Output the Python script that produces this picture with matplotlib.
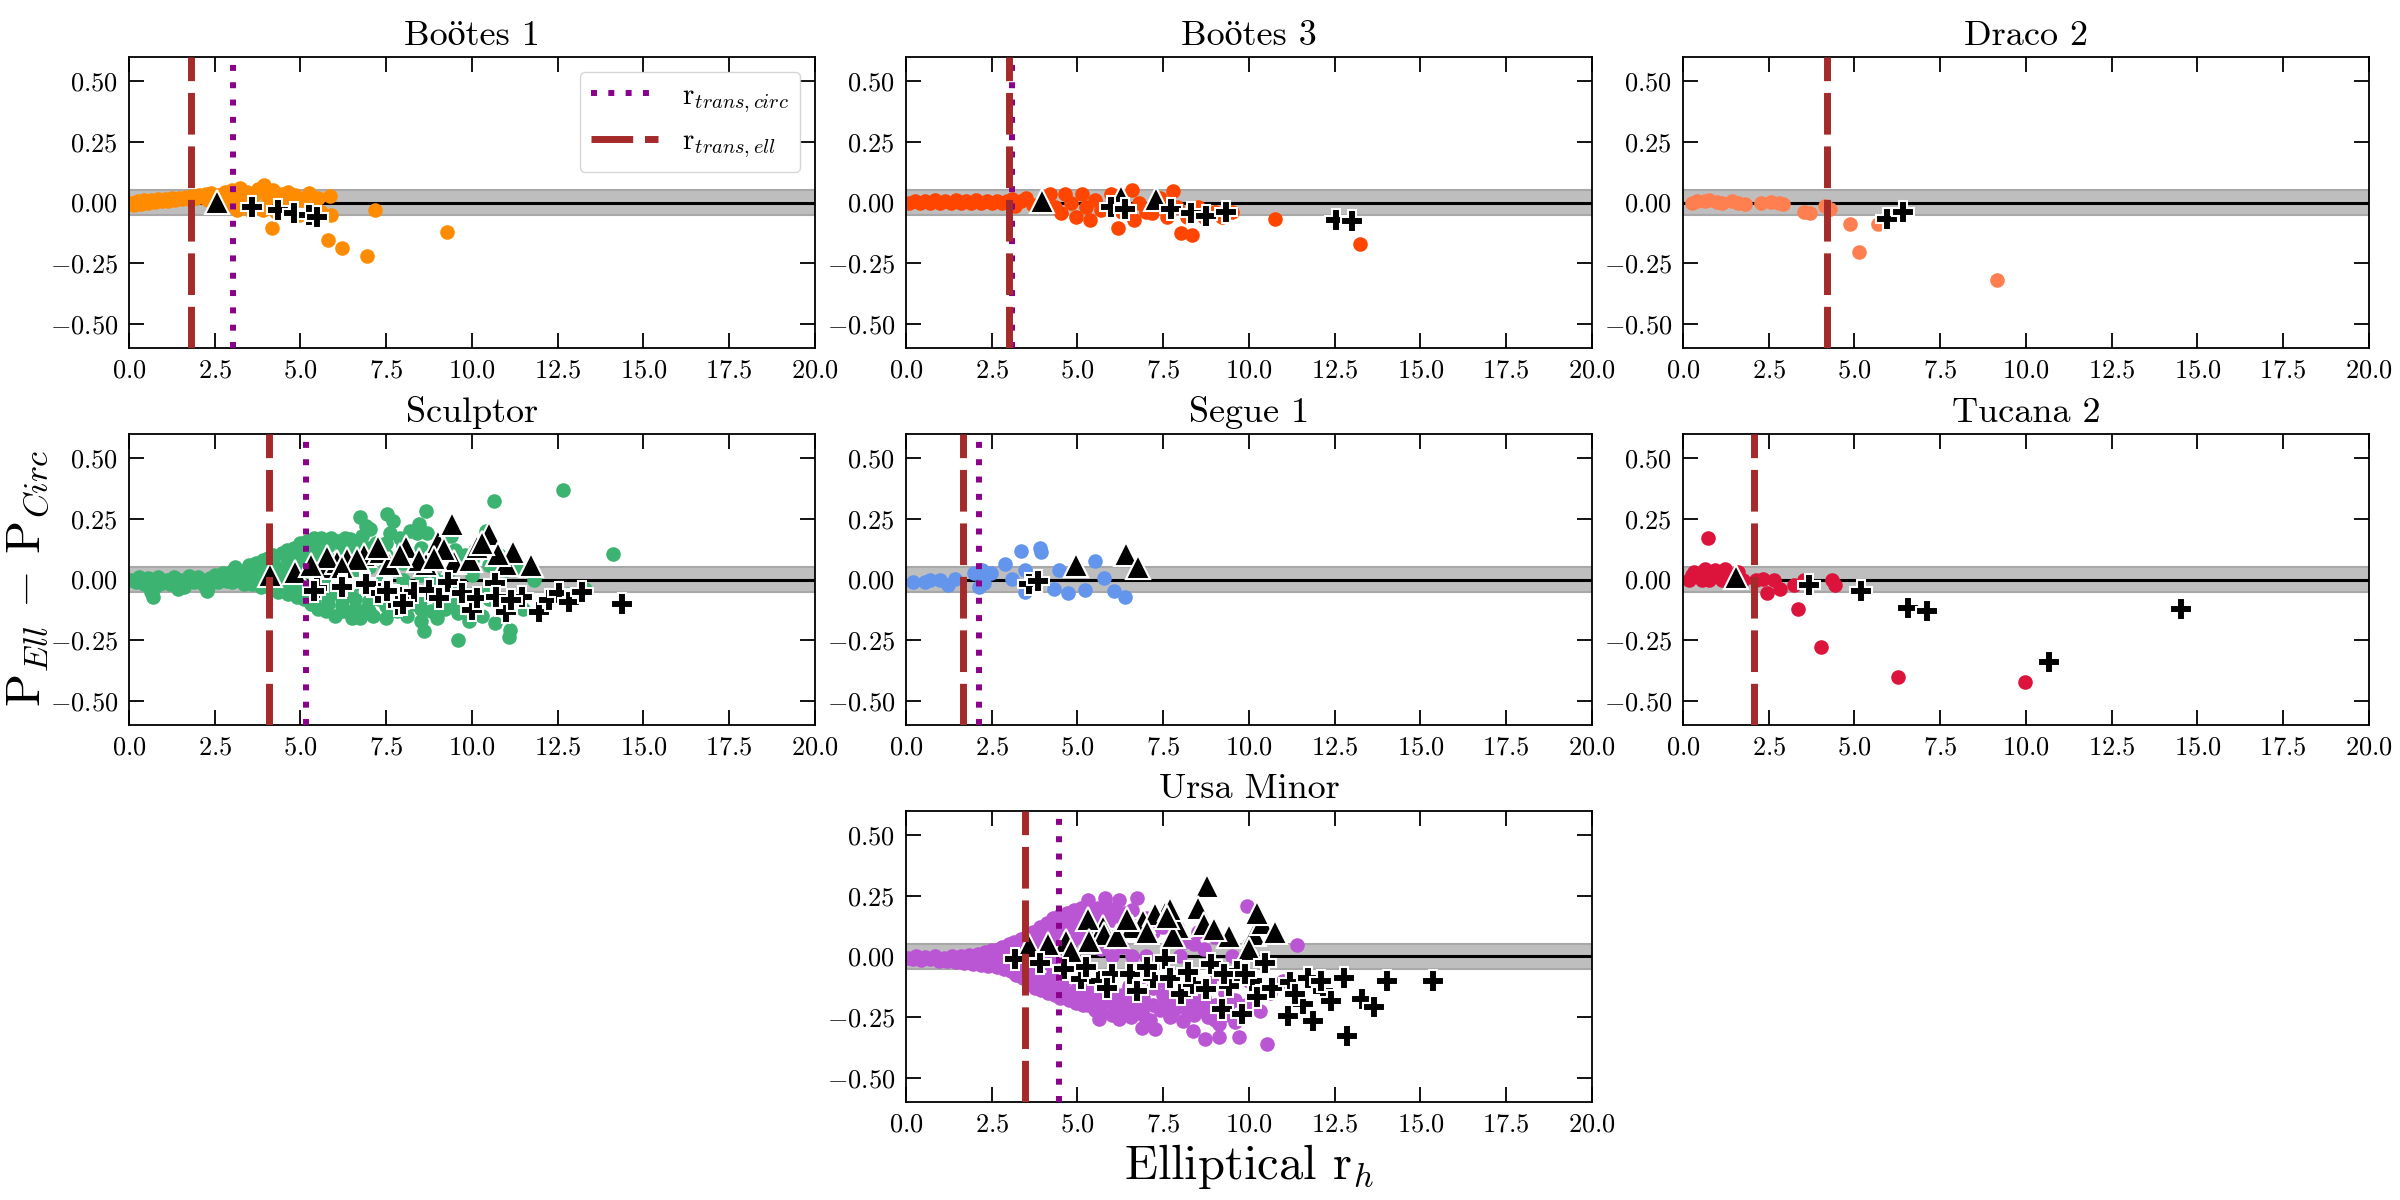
import matplotlib
matplotlib.use('Agg')
import matplotlib.pyplot as plt
from matplotlib.lines import Line2D

plt.rcParams.update({
    'font.family': ['cmr10', 'STIXGeneral'],
    'mathtext.fontset': 'cm',
    'axes.formatter.use_mathtext': True,
    'axes.unicode_minus': True,
})

# ---------------- data ----------------
names = ['Boötes 1', 'Boötes 3', 'Draco 2', 'Sculptor', 'Segue 1', 'Tucana 2', 'Ursa Minor']
colors = ['darkorange', 'orangered', 'coral', 'mediumseagreen', 'cornflowerblue', 'crimson', 'mediumorchid']
r_trans_ell = [1.82, 3.0, 4.2, 4.08, 1.67, 2.07, 3.48]
r_trans_circ = [3.04, 3.08, None, 5.17, 2.13, None, 4.46]

# Boötes 1
boo1_cx = [0.05, 0.15, 0.25, 0.35, 0.45, 0.55, 0.65, 0.75, 0.85, 0.95, 1.05, 1.15, 1.25, 1.35, 1.45, 1.55,
           1.65, 1.75, 1.85, 1.95, 2.05, 2.15, 2.25, 2.3, 2.4, 2.6, 2.8, 2.9, 3.0, 3.1, 3.15, 3.25, 3.35,
           3.45, 3.55, 3.65, 3.75, 3.93, 3.9, 4.05, 4.17, 4.2, 4.3, 4.45, 4.55, 4.65, 4.75, 4.85, 4.95,
           5.05, 5.26, 5.4, 5.5, 5.6, 5.81, 5.87, 5.9, 6.2, 6.94, 7.18, 9.28]
boo1_cy = [0.0, -0.01, 0.005, -0.005, 0.01, 0.0, 0.012, 0.004, 0.014, 0.006, 0.016, 0.008, 0.018, 0.01, 0.02, 0.014,
           0.024, 0.016, 0.028, 0.02, 0.03, 0.022, 0.035, 0.01, 0.04, 0.03, 0.045, -0.01, 0.05, 0.02, -0.03, 0.06, 0.0,
           0.045, -0.035, 0.03, 0.055, 0.074, -0.03, 0.02, -0.107, 0.05, -0.04, 0.035, 0.0, 0.045, -0.02, 0.03, -0.05,
           0.01, 0.04, -0.02, 0.02, -0.04, -0.154, 0.026, -0.05, -0.189, -0.22, -0.031, -0.123]
boo1_tx = [2.56]
boo1_ty = [0.003]
boo1_px = [3.58, 4.35, 4.80, 5.25, 5.47]
boo1_py = [-0.018, -0.029, -0.045, -0.052, -0.059]

# Boötes 3
boo3_cx = [0.1, 0.25, 0.4, 0.55, 0.7, 0.85, 1.0, 1.15, 1.3, 1.45, 1.6, 1.75, 1.9, 2.05, 2.2, 2.35, 2.5, 2.65,
           2.8, 2.95, 3.1, 3.19, 3.35, 3.5, 3.7, 4.21, 4.35, 4.53, 4.65, 4.8, 4.95, 5.14, 5.25, 5.36, 5.5, 5.7,
           5.99, 6.18, 6.3, 6.58, 6.66, 6.8, 7.0, 7.18, 7.4, 7.6, 7.78, 7.9, 8.03, 8.2, 8.34, 8.5, 8.7, 9.0,
           9.2, 9.5, 10.76, 13.24]
boo3_cy = [0.0, 0.008, -0.004, 0.006, 0.0, 0.009, -0.003, 0.007, 0.0, 0.01, -0.002, 0.006, 0.0, 0.009, -0.003,
           0.006, 0.0, 0.008, -0.004, 0.007, 0.015, -0.015, 0.005, 0.02, -0.01, 0.033, -0.02, -0.045, 0.037, 0.0,
           -0.059, 0.033, -0.02, -0.072, 0.01, -0.03, 0.037, -0.104, -0.04, 0.051, -0.072, 0.0, -0.04, -0.045,
           0.02, -0.06, 0.046, -0.02, -0.127, -0.06, -0.135, -0.02, -0.06, -0.04, -0.06, -0.04, -0.066, -0.172]
boo3_tx = [3.98, 6.26, 7.28]
boo3_ty = [0.007, 0.023, 0.016]
boo3_px = [5.99, 6.39, 7.73, 8.30, 8.74, 9.34, 12.54, 12.99]
boo3_py = [-0.02, -0.025, -0.025, -0.045, -0.056, -0.038, -0.072, -0.075]

# Draco 2
dra2_cx = [0.25, 0.4, 0.63, 0.75, 1.0, 1.15, 1.44, 1.6, 1.82, 2.26, 2.56, 2.8, 2.93, 3.53, 3.71, 4.15, 4.3,
           4.87, 5.12, 5.69, 9.16]
dra2_cy = [0.0, 0.005, 0.008, 0.01, 0.002, 0.0, 0.005, 0.0, -0.006, 0.0, 0.003, 0.0, -0.005, -0.038, -0.045,
           -0.015, -0.025, -0.09, -0.205, -0.089, -0.318]
dra2_tx = []
dra2_ty = []
dra2_px = [5.96, 6.41]
dra2_py = [-0.066, -0.041]

# Sculptor
scl_cx = [0.05, 0.2, 0.3, 0.45, 0.55, 0.7, 0.75, 0.85, 0.95, 1.1, 1.2, 1.3, 1.44, 1.5, 1.65, 1.75, 1.9, 2.0,
          2.15, 2.26, 2.35, 2.5, 2.6, 2.75, 2.85, 3.0, 3.0, 3.1, 3.2, 3.3, 3.35, 3.5, 3.55, 3.6, 3.7, 3.8, 3.85,
          3.9, 4.0, 4.05, 4.15, 4.2, 4.3, 4.35, 4.45, 4.5, 4.6, 4.65, 4.7, 4.8, 4.85, 4.9, 5.0, 5.0, 5.1, 5.2,
          5.25, 5.3, 5.4, 5.45, 5.5, 5.6, 5.7, 5.75, 5.9, 5.95, 6.0, 6.1, 6.2, 6.25, 6.3, 6.44, 6.5, 6.6, 6.73,
          6.73, 6.8, 6.9, 7.03, 7.1, 7.2, 7.3, 7.48, 7.52, 7.6, 7.7, 7.8, 7.9, 8.1, 8.2, 8.3, 8.45, 8.5, 8.6,
          8.67, 8.7, 8.8, 8.97, 9.1, 9.2, 9.4, 9.59, 9.6, 9.8, 9.9, 10.1, 10.3, 10.4, 10.64, 10.68, 10.8,
          11.08, 11.1, 11.3, 11.5, 11.8, 12.2, 12.65, 12.8, 13.3, 14.11, 5.5, 5.8, 6.0, 6.4, 6.6, 7.0, 7.4,
          7.5, 8.0, 8.4, 8.9, 9.3, 9.7, 10.0, 10.5, 6.9, 8.4,
          3.4, 3.4, 3.8, 3.8, 3.8, 4.2, 4.2, 4.2, 4.6, 4.6, 4.6, 5.0, 5.0, 5.0, 5.0, 5.4, 5.4, 5.4, 5.4, 5.4,
          5.8, 5.8, 5.8, 5.8, 5.8, 6.2, 6.2, 6.2, 6.2, 6.2, 6.6, 6.6, 6.6, 6.6, 6.6, 7.0, 7.0, 7.0, 7.0, 7.0,
          7.5, 7.5, 7.5, 7.5, 8.0, 8.0, 8.0, 8.0, 8.5, 8.5, 8.5, 8.5, 9.0, 9.0, 9.0, 9.0, 9.5, 9.5, 9.5,
          10.0, 10.0, 10.0, 10.5, 10.5, 11.0, 11.0, 0.65, 1.6, 2.3, 2.9]
scl_cy = [0.0, -0.01, 0.01, -0.02, 0.005, -0.07, -0.03, 0.01, -0.015, 0.0, -0.02, 0.012, -0.037, 0.0, -0.015,
          0.015, -0.01, 0.01, -0.02, -0.046, 0.005, 0.02, -0.01, 0.025, -0.005, 0.035, -0.01, 0.05, 0.0, 0.03,
          -0.02, 0.06, 0.01, -0.02, 0.07, 0.03, -0.03, 0.08, 0.0, 0.09, -0.04, 0.1, 0.05, -0.05, 0.11, 0.0,
          0.12, -0.06, 0.07, 0.13, -0.02, -0.07, 0.15, 0.03, -0.08, 0.16, 0.09, -0.1, 0.17, 0.0, -0.12, 0.17,
          0.11, -0.13, 0.17, -0.05, -0.15, 0.16, 0.03, -0.13, 0.17, 0.168, -0.16, 0.12, 0.257, -0.16, 0.18,
          -0.12, 0.209, -0.15, 0.15, -0.08, -0.16, 0.27, 0.19, 0.243, -0.13, 0.17, -0.15, 0.2, -0.1, 0.23,
          -0.17, -0.214, 0.284, 0.19, -0.13, -0.16, 0.15, -0.12, 0.18, -0.251, -0.14, 0.1, -0.17, 0.12, -0.15,
          0.2, 0.325, -0.18, 0.1, -0.235, -0.21, 0.05, -0.12, 0.0, -0.09, 0.369, -0.06, -0.04, 0.107, 0.05,
          -0.02, 0.08, -0.06, 0.02, 0.05, 0.0, 0.1, 0.0, 0.05, -0.03, 0.03, -0.05, 0.02, -0.04, 0.22, 0.19,
          0.04, 0.01, 0.05, 0.0, -0.01, 0.07, 0.02, -0.02, 0.09, 0.04, -0.03, 0.11, 0.07, -0.01, -0.05, 0.13,
          0.08, 0.03, -0.06, -0.09, 0.14, 0.08, 0.03, -0.07, -0.1, 0.13, 0.07, -0.03, -0.08, -0.11, 0.15, 0.07,
          -0.02, -0.08, -0.12, 0.13, 0.09, -0.04, -0.09, -0.13, 0.15, 0.05, -0.05, -0.11, 0.14, 0.07, -0.06,
          -0.12, 0.13, 0.02, -0.08, -0.12, 0.1, 0.0, -0.08, -0.13, 0.12, -0.04, -0.1, 0.08, -0.06, -0.12, 0.06,
          -0.08, 0.04, -0.1, -0.05, -0.03, -0.03, 0.0]
scl_tx = [4.1, 4.84, 5.62, 6.06, 6.36, 6.84, 7.33, 7.58, 8.07, 8.67, 9.01, 9.41, 9.49, 9.94, 10.16, 10.5,
          10.98, 11.2, 11.72, 5.77, 6.66, 7.25, 8.45, 9.19, 10.76, 5.3, 6.2, 7.9, 8.9, 10.3]
scl_ty = [0.018, 0.031, 0.052, 0.072, 0.086, 0.1, 0.113, 0.066, 0.134, 0.066, 0.154, 0.23, 0.072, 0.079,
          0.134, 0.188, 0.066, 0.113, 0.059, 0.093, 0.086, 0.134, 0.079, 0.127, 0.107, 0.06, 0.05, 0.1, 0.09, 0.15]
scl_px = [5.47, 6.24, 6.84, 7.55, 8.0, 8.3, 8.74, 9.04, 9.31, 9.71, 10.01, 10.16, 10.68, 10.71, 10.98, 11.46,
          11.95, 12.24, 12.54, 12.84, 13.21, 14.38, 7.85, 7.25, 11.13, 5.39, 6.22, 6.9, 7.53, 8.0]
scl_py = [-0.033, -0.023, -0.01, -0.041, -0.071, -0.051, -0.044, -0.078, -0.01, -0.057, -0.126, -0.078, -0.014,
          -0.071, -0.133, -0.071, -0.133, -0.085, -0.055, -0.092, -0.051, -0.101, -0.105, -0.057, -0.085, -0.046,
          -0.032, -0.018, -0.046, -0.1]

# Segue 1
seg_cx = [0.21, 0.55, 0.7, 1.0, 1.22, 1.44, 1.97, 2.12, 2.23, 2.49, 2.26, 2.89, 3.08, 3.35, 3.46, 3.46, 3.9,
          3.95, 4.32, 4.47, 4.72, 5.21, 5.5, 5.76, 6.06, 6.39]
seg_cy = [-0.01, -0.01, -0.003, -0.003, -0.023, 0.004, 0.025, -0.03, 0.038, 0.025, -0.016, 0.066, 0.004, 0.116,
          0.038, -0.05, 0.13, 0.113, -0.037, 0.038, -0.055, -0.044, 0.075, 0.007, -0.048, -0.074]
seg_tx = [4.95, 6.41, 6.76]
seg_ty = [0.059, 0.107, 0.052]
seg_px = [3.6, 3.85]
seg_py = [-0.019, -0.005]

# Tucana 2
tuc_cx = [0.74, 0.18, 0.33, 0.48, 0.63, 0.77, 0.92, 1.07, 1.22, 1.37, 1.59, 1.74, 0.25, 0.55, 0.85, 1.15, 2.12,
          2.34, 2.46, 2.64, 2.82, 3.23, 3.34, 3.53, 4.01, 4.35, 4.42, 6.26, 9.98]
tuc_cy = [0.172, -0.003, 0.031, 0.011, 0.045, -0.003, 0.038, 0.011, 0.045, 0.018, 0.031, -0.003, 0.02, 0.0, 0.02,
          0.0, -0.003, 0.004, -0.055, -0.003, -0.037, -0.023, -0.123, -0.003, -0.279, -0.003, -0.023, -0.402, -0.422]
tuc_tx = [1.55]
tuc_ty = [0.011]
tuc_px = [3.68, 5.2, 6.55, 7.11, 10.68, 14.51]
tuc_py = [-0.023, -0.048, -0.116, -0.128, -0.342, -0.122]

# Ursa Minor
umi_cx = [0.05, 0.2, 0.3, 0.45, 0.55, 0.7, 0.85, 0.95, 1.1, 1.2, 1.35, 1.45, 1.6, 1.7, 1.85, 1.95, 2.1, 2.2,
          2.3, 2.4, 2.5, 2.55, 2.65, 2.7, 2.8, 2.85, 2.9, 3.0, 3.05, 3.15, 3.2, 3.25, 3.35, 3.4, 3.45, 3.5,
          3.6, 3.65, 3.7, 3.75, 3.8, 3.9, 3.95, 4.0, 4.1, 4.15, 4.2, 4.3, 4.35, 4.4, 4.5, 4.5, 4.6, 4.7, 4.75,
          4.8, 4.9, 4.95, 5.0, 5.1, 5.15, 5.3, 5.3, 5.4, 5.5, 5.6, 5.63, 5.7, 5.8, 5.9, 6.0, 6.1, 6.22, 6.22,
          6.3, 6.4, 6.55, 6.6, 6.74, 6.89, 6.9, 7.0, 7.1, 7.26, 7.3, 7.4, 7.6, 7.7, 7.9, 8.08, 8.2, 8.38, 8.5,
          8.72, 8.8, 9.0, 9.12, 9.12, 9.4, 9.72, 9.9, 9.94, 10.0, 10.31, 10.54, 10.6, 11.0, 11.4, 4.0, 4.3,
          4.7, 5.0, 5.2, 5.5, 5.7, 6.0, 6.3, 6.5, 7.0, 7.5, 8.0, 8.5, 9.0, 9.5, 10.0,
          2.7, 2.7, 3.0, 3.0, 3.3, 3.3, 3.3, 3.6, 3.6, 3.6, 3.9, 3.9, 3.9, 3.9, 4.2, 4.2, 4.2, 4.2, 4.5, 4.5,
          4.5, 4.5, 4.8, 4.8, 4.8, 4.8, 5.1, 5.1, 5.1, 5.1, 5.4, 5.4, 5.4, 5.4, 5.7, 5.7, 5.7, 5.7, 6.0, 6.0,
          6.0, 6.0, 6.3, 6.3, 6.3, 6.3, 6.6, 6.6, 6.6, 6.6, 6.9, 6.9, 6.9, 6.9, 7.2, 7.2, 7.2, 7.5, 7.5, 7.5,
          7.8, 7.8, 7.8, 8.1, 8.1, 8.1, 8.4, 8.4, 8.4, 8.7, 8.7, 8.7, 9.0, 9.0, 9.3, 9.3, 9.6, 9.6, 10.0, 10.3]
umi_cy = [-0.005, -0.012, 0.0, -0.015, -0.003, -0.01, 0.0, -0.018, -0.005, -0.02, 0.0, -0.022, 0.003, -0.025,
          0.008, -0.03, 0.012, -0.035, 0.02, -0.04, 0.025, -0.01, -0.045, 0.03, 0.04, -0.05, 0.0, 0.05, -0.06,
          0.06, -0.075, 0.02, 0.07, -0.09, -0.03, 0.08, -0.11, 0.04, 0.1, -0.13, -0.06, 0.12, -0.14, 0.02, 0.14,
          -0.15, -0.09, 0.16, -0.16, 0.08, 0.17, -0.17, -0.1, 0.18, -0.18, 0.12, 0.19, -0.19, -0.13, 0.2, -0.2,
          0.232, -0.2, 0.2, -0.22, 0.2, -0.258, -0.23, 0.243, 0.2, -0.24, 0.19, 0.234, -0.258, -0.22, 0.18,
          -0.25, 0.19, 0.243, -0.293, -0.24, 0.16, -0.26, -0.299, 0.15, -0.22, 0.14, -0.25, 0.12, -0.265, -0.22,
          -0.306, 0.1, -0.341, -0.25, 0.08, -0.334, -0.279, -0.2, -0.334, -0.2, 0.209, 0.05, -0.224, -0.361,
          -0.15, -0.1, 0.048, 0.08, -0.05, 0.0, 0.1, -0.05, 0.05, -0.1, 0.0, 0.1, -0.12, 0.0, -0.1, 0.0, -0.15,
          -0.1, 0.0, -0.1,
          0.01, -0.02, 0.02, -0.03, 0.04, 0.0, -0.05, 0.06, 0.0, -0.07, 0.09, 0.04, -0.03, -0.1, 0.12, 0.05,
          -0.02, -0.12, 0.13, 0.04, -0.06, -0.13, 0.15, 0.06, -0.04, -0.15, 0.16, 0.08, -0.1, -0.16, 0.15, 0.1,
          -0.12, -0.17, 0.16, 0.03, -0.15, -0.19, 0.15, 0.08, -0.14, -0.19, 0.16, 0.04, -0.16, -0.2, 0.13, 0.0,
          -0.18, -0.21, 0.12, -0.08, -0.17, -0.2, 0.1, -0.13, -0.2, 0.12, -0.16, -0.21, 0.08, -0.18, -0.22, 0.06,
          -0.15, -0.2, 0.05, -0.19, -0.24, 0.03, -0.17, -0.22, -0.2, -0.26, -0.15, -0.24, -0.18, -0.27, -0.2, -0.16]
umi_tx = [8.79, 8.5, 7.56, 6.92, 5.73, 5.3, 5.77, 5.33, 4.66, 4.14, 3.59, 4.81, 7.93, 8.68, 9.42, 10.16,
          10.39, 10.76, 10.24, 10.01, 7.78, 6.59, 6.15, 7.26, 7.71, 8.97, 6.44, 7.04, 7.62]
umi_ty = [0.291, 0.2, 0.18, 0.147, 0.122, 0.154, 0.092, 0.065, 0.065, 0.051, 0.044, 0.023, 0.12, 0.133, 0.085,
          0.092, 0.14, 0.099, 0.181, 0.03, 0.085, 0.12, 0.085, 0.174, 0.195, 0.113, 0.154, 0.099, 0.161]
umi_px = [3.17, 3.91, 4.61, 5.1, 5.63, 6.0, 6.52, 6.74, 7.19, 7.56, 7.71, 8.01, 8.38, 8.75, 8.9, 9.2, 9.42,
          9.64, 9.79, 10.09, 10.24, 10.46, 10.68, 11.13, 11.21, 11.58, 11.73, 11.88, 12.17, 12.4, 12.77, 12.87,
          13.29, 13.66, 14.03, 15.37, 5.25, 5.85, 7.04, 8.23, 9.27, 9.87, 11.35, 12.1]
umi_py = [-0.011, -0.025, -0.052, -0.093, -0.1, -0.073, -0.073, -0.141, -0.087, -0.011, -0.087, -0.155, -0.114,
          -0.135, -0.032, -0.217, -0.121, -0.059, -0.238, -0.1, -0.169, -0.025, -0.128, -0.245, -0.107, -0.196,
          -0.087, -0.265, -0.141, -0.183, -0.087, -0.327, -0.176, -0.21, -0.1, -0.1, -0.045, -0.128, -0.045,
          -0.066, -0.073, -0.073, -0.155, -0.1]

circ_x = [boo1_cx, boo3_cx, dra2_cx, scl_cx, seg_cx, tuc_cx, umi_cx]
circ_y = [boo1_cy, boo3_cy, dra2_cy, scl_cy, seg_cy, tuc_cy, umi_cy]
tri_x = [boo1_tx, boo3_tx, dra2_tx, scl_tx, seg_tx, tuc_tx, umi_tx]
tri_y = [boo1_ty, boo3_ty, dra2_ty, scl_ty, seg_ty, tuc_ty, umi_ty]
plus_x = [boo1_px, boo3_px, dra2_px, scl_px, seg_px, tuc_px, umi_px]
plus_y = [boo1_py, boo3_py, dra2_py, scl_py, seg_py, tuc_py, umi_py]

# ---------------- layout ----------------
fig = plt.figure(figsize=(24, 12), dpi=100)
col_left = [0.05375, 0.3775, 0.70125]
row_bottom = [0.71, 0.3958, 0.0817]
w, h = 0.2858, 0.2425
grid = [(0, 0), (0, 1), (0, 2), (1, 0), (1, 1), (1, 2), (2, 1)]

axes = []
for i, name in enumerate(names):
    r, c = grid[i]
    ax = fig.add_axes([col_left[c], row_bottom[r], w, h])
    axes.append(ax)
    ax.axhspan(-0.05, 0.05, facecolor='#bebebe', edgecolor='#a8a8a8', lw=1.5, zorder=0)
    ax.axhline(0, color='black', lw=2.2, zorder=0.5)
    ax.plot(circ_x[i], circ_y[i], 'o', ls='none', color=colors[i], ms=10.5, mew=0, zorder=2)
    if tri_x[i]:
        ax.plot(tri_x[i], tri_y[i], '^', ls='none', color='black', ms=17, mec='white', mew=1.5, zorder=3)
    ax.plot(plus_x[i], plus_y[i], 'P', ls='none', color='black', ms=16.5, mec='white', mew=1.5, zorder=4)
    if r_trans_circ[i] is not None:
        ax.axvline(r_trans_circ[i], color='darkmagenta', lw=4.3, ls=(0, (1, 1.9)), zorder=5)
    ax.axvline(r_trans_ell[i], color='brown', lw=5, ls=(0, (6, 1.7)), zorder=6)
    ax.set_xlim(0, 20)
    ax.set_ylim(-0.6, 0.6)
    ax.set_xticks([0, 2.5, 5, 7.5, 10, 12.5, 15, 17.5, 20])
    ax.set_yticks([-0.5, -0.25, 0, 0.25, 0.5])
    ax.tick_params(direction='in', length=11, width=1.3, labelsize=19, top=True, right=True, pad=8)
    for s in ax.spines.values():
        s.set_linewidth(1.3)
    ax.set_title(name, fontsize=26, pad=9)

leg_handles = [Line2D([], [], color='darkmagenta', lw=4.3, ls=(0, (1, 1.9))),
               Line2D([], [], color='brown', lw=5, ls=(0, (6, 1.7)))]
axes[0].legend(leg_handles, [r'r$_{trans,circ}$', r'r$_{trans,ell}$'], loc='upper right',
               fontsize=21, handlelength=2.3, framealpha=0.8, borderaxespad=0.5)

fig.text(0.0117, 0.518, r'P$_{Ell}$ $-$ P$_{Circ}$', rotation=90, ha='center', va='center', fontsize=35)
axes[6].set_xlabel(r'Elliptical r$_h$', fontsize=35, labelpad=4)

fig.savefig('out.png', dpi=100)
